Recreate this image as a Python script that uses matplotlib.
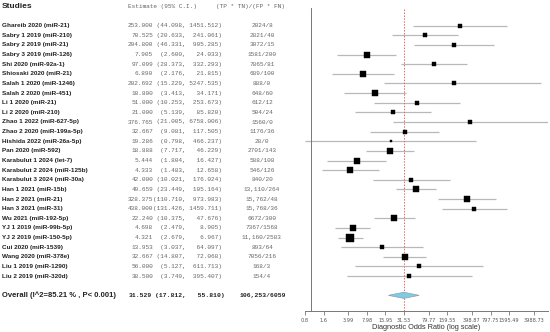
import numpy as np
import matplotlib.pyplot as plt
import matplotlib.transforms as mtransforms

# ---------------------------------------------------------
# data
# ---------------------------------------------------------
studies = [
    "Ghareib 2020 (miR-21)", "Sabry 1 2019 (miR-210)", "Sabry 2 2019 (miR-21)",
    "Sabry 3 2019 (miR-126)", "Shi 2020 (miR-92a-1)", "Shiosaki 2020 (miR-21)",
    "Salah 1 2020 (miR-1246)", "Salah 2 2020 (miR-451)", "Li 1 2020 (miR-21)",
    "Li 2 2020 (miR-210)", "Zhao 1 2022 (miR-627-5p)", "Zhao 2 2020 (miR-199a-5p)",
    "Hishida 2022 (miR-26a-5p)", "Pan 2020 (miR-592)", "Karabulut 1 2024 (let-7)",
    "Karabulut 2 2024 (miR-125b)", "Karabulut 3 2024 (miR-30a)", "Han 1 2021 (miR-15b)",
    "Han 2 2021 (miR-21)", "Han 3 2021 (miR-31)", "Wu 2021 (miR-192-5p)",
    "YJ 1 2019 (miR-99b-5p)", "YJ 2 2019 (miR-150-5p)", "Cui 2020 (miR-1539)",
    "Wang 2020 (miR-378e)", "Liu 1 2019 (miR-1290)", "Liu 2 2019 (miR-320d)",
]
estimate = [253.000, 70.525, 204.800, 7.905, 97.099, 6.890, 202.692, 10.800, 51.000,
            21.000, 376.765, 32.667, 19.286, 18.888, 5.444, 4.333, 42.000, 49.659,
            328.375, 438.000, 22.240, 4.698, 4.321, 13.953, 32.667, 56.000, 38.500]
lower = [44.098, 20.633, 46.331, 2.600, 28.373, 2.176, 15.229, 3.413, 10.253,
         5.139, 21.005, 9.081, 0.798, 7.717, 1.804, 1.483, 10.021, 23.449,
         110.710, 131.426, 10.375, 2.479, 2.679, 3.037, 14.807, 5.127, 3.749]
upper = [1451.512, 241.061, 905.285, 24.033, 332.293, 21.815, 5247.535, 34.171, 253.673,
         85.820, 6758.006, 117.505, 466.237, 46.229, 16.427, 12.658, 176.024, 105.164,
         973.983, 1459.711, 47.676, 8.905, 6.967, 64.097, 72.068, 611.713, 395.407]
ratio = ["2024/8", "2821/40", "3072/15", "1581/200", "7865/81", "689/100", "888/0",
         "648/60", "612/12", "504/24", "1560/0", "1176/36", "28/0", "2701/143",
         "588/108", "546/126", "840/20", "13,110/264", "15,762/48", "15,768/36",
         "6672/300", "7367/1568", "11,160/2583", "893/64", "7056/216", "168/3", "154/4"]

overall_est, overall_lo, overall_hi = 31.529, 17.812, 55.810
overall_ratio = "106,253/6059"
i2 = 85.21

xticks = [0.8, 1.6, 3.99, 7.98, 15.95, 31.53, 79.77, 159.55, 398.87, 797.75, 1595.49, 3988.73]


def ci_text(lo, hi):
    # monospace columns: "(lo," and "hi)" each right-padded to fixed width
    return f"{'(' + format(lo, '.3f') + ',':>9} {format(hi, '.3f') + ')':>9}"


# ---------------------------------------------------------
# layout
# ---------------------------------------------------------
W, H = 550, 332
fig = plt.figure(figsize=(W / 100, H / 100), dpi=100)

row0_px, row_step = 25.7, 9.63
ax_top_px, ax_bot_px = 8, 311
ax = fig.add_axes([305 / W, 1 - ax_bot_px / H, 243 / W, (ax_bot_px - ax_top_px) / H])
ax.set_xscale("log")
ax.set_xlim(min(lower), max(upper))
ax.set_ylim((ax_bot_px - row0_px) / row_step, (ax_top_px - row0_px) / row_step)

n = len(studies)
rows = np.arange(n)
overall_row = n + 1

# weights (inverse variance on log scale) -> marker size
se = (np.log(upper) - np.log(lower)) / (2 * 1.96)
w = 1 / se**2
side_px = 3.8 * w**0.27

ax.hlines(rows, lower, upper, color="#b8b8b8", lw=0.9, zorder=1)
for r, e, s in zip(rows, estimate, side_px):
    ax.plot(e, r, marker="s", ms=s * 0.72, color="black", mec="black", mew=0.3, zorder=3)

ax.axvline(1, color="#777777", lw=0.7, zorder=2)
ax.axvline(overall_est, color="#e8675f", lw=0.7, ls=(0, (1.5, 1.5)), zorder=2)

dx = [overall_lo, overall_est, overall_hi, overall_est]
dy = [overall_row, overall_row - 0.32, overall_row, overall_row + 0.32]
ax.fill(dx, dy, facecolor="#7fcbe6", edgecolor="#8aa0a8", lw=0.5, zorder=4)

for sp in ["top", "right", "left"]:
    ax.spines[sp].set_visible(False)
ax.spines["bottom"].set_color("#777777")
ax.spines["bottom"].set_linewidth(0.7)
ax.set_yticks([])
ax.set_xticks(xticks)
ax.set_xticklabels([f"{t:g}" for t in xticks])
ax.xaxis.set_minor_locator(plt.NullLocator())
ax.tick_params(axis="x", length=3, width=0.6, color="#777777", labelsize=3.6,
               labelcolor="#555555", pad=2)
ax.set_xlabel("Diagnostic Odds Ratio (log scale)", fontsize=5.3, color="#333333",
              labelpad=1, family="Liberation Sans")

# ---------------------------------------------------------
# table on the left
# ---------------------------------------------------------
tr = mtransforms.blended_transform_factory(fig.transFigure, ax.transData)
mono = dict(family="Liberation Mono", fontsize=4.4, color="#666666", va="center",
            transform=tr)
name_kw = dict(family="Liberation Sans", fontsize=4.6, fontweight="bold",
               color="#222222", va="center", transform=tr)

est_x, ci_x, ratio_x = 153 / W, 222 / W, 262 / W

fig.text(2 / W, -2, "Studies", family="Liberation Sans", fontsize=6.0,
         fontweight="bold", color="#222222", va="center", transform=tr)
fig.text(128 / W, -2, "Estimate (95% C.I.)", ha="left", **mono)
fig.text(250 / W, -2, "(TP * TN)/(FP * FN)", ha="center", **mono)

for r in rows:
    fig.text(2 / W, r, studies[r], ha="left", **name_kw)
    fig.text(est_x, r, f"{estimate[r]:.3f}", ha="right", **mono)
    fig.text(ci_x, r, ci_text(lower[r], upper[r]), ha="right", **mono)
    fig.text(ratio_x, r, ratio[r], ha="center", **mono)

fig.text(2 / W, overall_row, f"Overall (I^2={i2:.2f} % , P< 0.001)",
         family="Liberation Sans", fontsize=5.5, fontweight="bold", color="#222222",
         va="center", transform=tr)
bold_mono = dict(mono, fontsize=4.6, color="#222222", fontweight="bold")
fig.text(est_x - 1 / W, overall_row, f"{overall_est:.3f}", ha="right", **bold_mono)
fig.text(ci_x + 3 / W, overall_row, ci_text(overall_lo, overall_hi).strip(),
         ha="right", **bold_mono)
fig.text(ratio_x + 1 / W, overall_row, overall_ratio, ha="center", **bold_mono)

fig.savefig("out.png", dpi=100)
